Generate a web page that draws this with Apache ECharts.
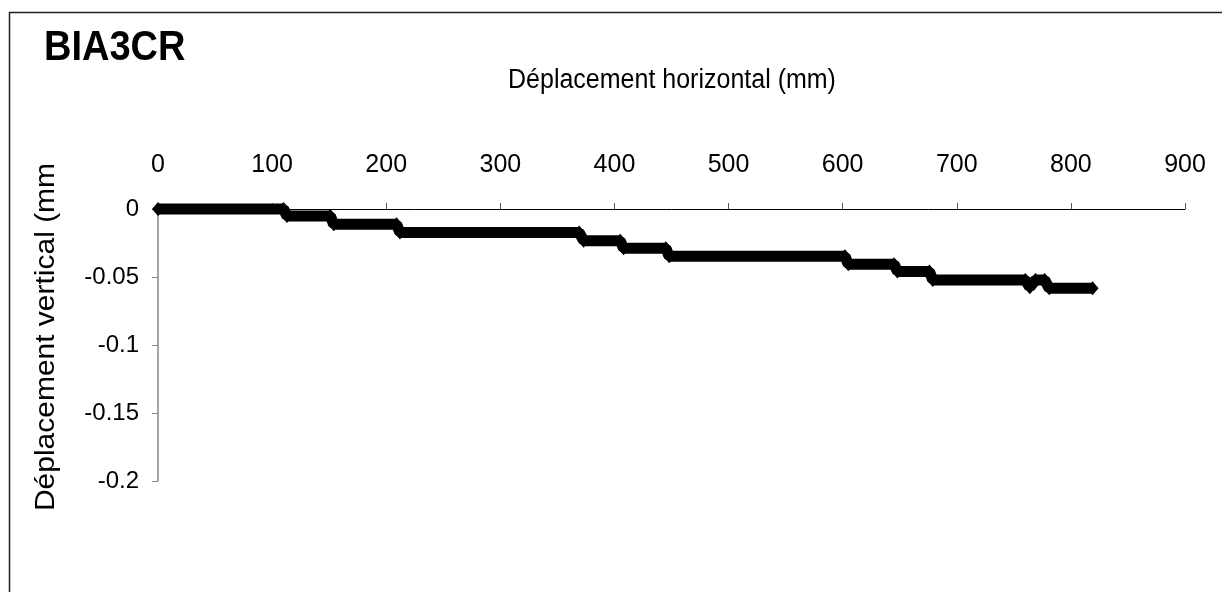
<!DOCTYPE html>
<html>
<head>
<meta charset="utf-8">
<script src="https://cdn.jsdelivr.net/npm/echarts@6/dist/echarts.min.js"></script>
<style>
html,body{margin:0;padding:0;background:#fff;}
#chart{width:1222px;height:592px;}
</style>
</head>
<body>
<div id="chart"></div>
<script>
// Step segments of the measured curve: start/end horizontal displacement (mm) and vertical displacement (mm)
const segStart = [0, 113, 154, 212, 373, 408, 448, 605, 648, 679, 764, 769, 781];
const segEnd   = [110, 151, 209, 369, 405, 445, 602, 645, 676, 760, 764, 777, 819];
const segLevel = [0, -0.0052, -0.0113, -0.0172, -0.0233, -0.0288, -0.0348, -0.0406, -0.0459, -0.0522, -0.0575, -0.0522, -0.0583];
const xTicks = [0, 100, 200, 300, 400, 500, 600, 700, 800, 900];
const yTicks = [0, -0.05, -0.1, -0.15, -0.2];
const chartTitle = 'BIA3CR';
const xTitle = 'Déplacement horizontal (mm)';
const yTitle = 'Déplacement vertical (mm';

const points = [];
for (let i = 0; i < segStart.length; i++) {
  points.push([segStart[i], segLevel[i]]);
  if (segEnd[i] !== segStart[i]) points.push([segEnd[i], segLevel[i]]);
}

const FONT = "'Liberation Sans', Arial, sans-serif";
const chart = echarts.init(document.getElementById('chart'), null, {renderer: 'canvas'});
chart.setOption({
  backgroundColor: '#fff',
  animation: false,
  grid: {left: 158, right: 37, top: 209, bottom: 111, containLabel: false},
  xAxis: {
    type: 'value', position: 'top',
    min: xTicks[0], max: xTicks[xTicks.length - 1], interval: 100,
    axisLine: {show: true, onZero: false, lineStyle: {color: '#000', width: 1}},
    axisTick: {show: true, length: 6, lineStyle: {color: '#555'}},
    axisLabel: {show: true, margin: 31, color: '#000', fontSize: 25, fontFamily: FONT},
    splitLine: {show: false}
  },
  yAxis: {
    type: 'value',
    min: yTicks[yTicks.length - 1], max: yTicks[0], interval: 0.05,
    axisLine: {show: true, onZero: false, lineStyle: {color: '#888', width: 1.5}},
    axisTick: {show: true, length: 6, lineStyle: {color: '#888'}},
    axisLabel: {show: true, margin: 19, color: '#000', fontSize: 24, fontFamily: FONT},
    splitLine: {show: false}
  },
  graphic: [
    {type: 'rect', left: 7, top: 10, silent: true, z: -1,
     shape: {x: 0, y: 0, width: 1400, height: 800},
     style: {fill: 'none', stroke: '#222', lineWidth: 1.5}},
    {type: 'text', x: 44, y: 48, scaleY: 1.1,
     style: {text: chartTitle, fontSize: 38, fontWeight: 'bold', fontFamily: FONT, fill: '#000', verticalAlign: 'middle'}},
    {type: 'text', x: 672, y: 81, scaleY: 1.08,
     style: {text: xTitle, fontSize: 25, fontFamily: FONT, fill: '#000', align: 'center', verticalAlign: 'middle'}},
    {type: 'text', x: 47, y: 337, rotation: Math.PI / 2, scaleX: 1.11,
     style: {text: yTitle, fontSize: 27, fontFamily: FONT, fill: '#000', align: 'center', verticalAlign: 'middle'}}
  ],
  series: [{
    type: 'line',
    data: points,
    clip: false,
    symbol: 'diamond',
    symbolSize: [12, 14],
    showSymbol: true,
    itemStyle: {color: '#000'},
    lineStyle: {color: '#000', width: 11, join: 'bevel'}
  }]
});
</script>
</body>
</html>
